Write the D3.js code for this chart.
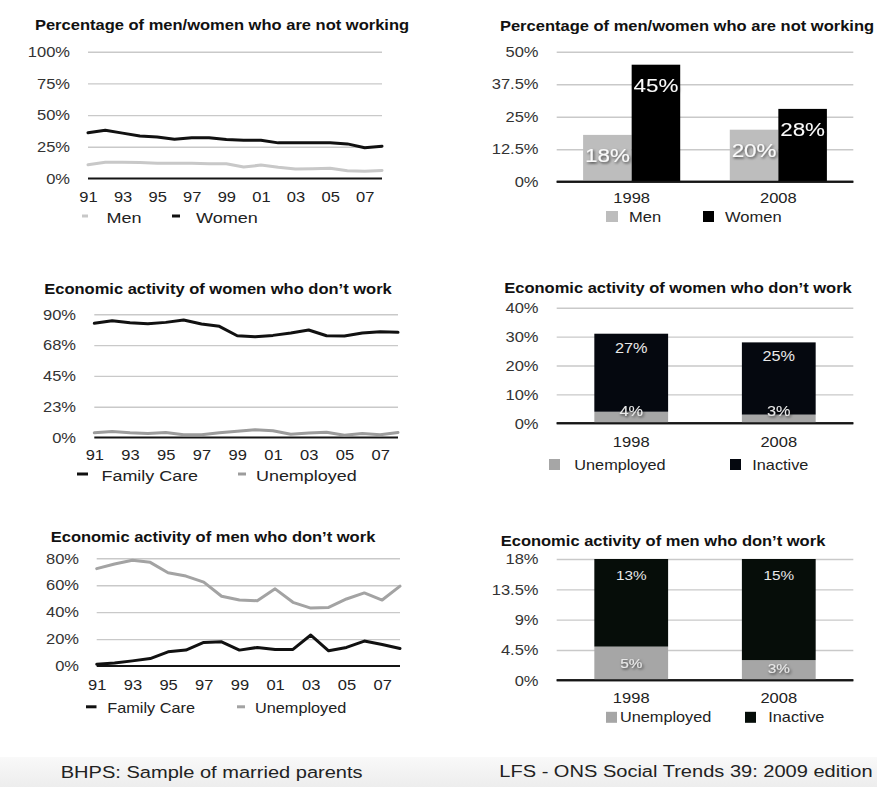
<!DOCTYPE html>
<html>
<head>
<meta charset="utf-8">
<script src="https://cdn.jsdelivr.net/npm/d3@7"></script>
<style>
  body { margin: 0; background: #fff; }
  svg { display: block; font-family: "Liberation Sans", Arial, Helvetica, sans-serif; }
</style>
</head>
<body>
<svg id="chart" width="877" height="787"></svg>
<script>
// ---- BHPS series (sample of married parents), percent ----
const years = [1991, 1992, 1993, 1994, 1995, 1996, 1997, 1998, 1999,
               2000, 2001, 2002, 2003, 2004, 2005, 2006, 2007, 2008];
const yearTicks = [1991, 1993, 1995, 1997, 1999, 2001, 2003, 2005, 2007];

const notWorkingMen   = [10.8, 12.9, 12.9, 12.6, 12.1, 12.1, 12.1, 11.6, 11.6, 9.0, 10.6, 8.8, 7.5, 7.7, 8.0, 6.2, 5.7, 6.4];
const notWorkingWomen = [36.1, 38.1, 35.8, 33.5, 32.7, 30.9, 32.2, 32.2, 30.7, 30.2, 30.2, 28.1, 28.1, 28.1, 28.1, 27.3, 24.2, 25.5];

const womenFamilyCare = [83.4, 85.3, 83.9, 83.1, 84.1, 85.8, 82.9, 81.2, 74.3, 73.6, 74.6, 76.3, 78.5, 74.3, 74.1, 76.3, 77.3, 76.8];
const womenUnemployed = [3.4, 4.4, 3.4, 2.9, 3.7, 2.0, 2.0, 3.4, 4.6, 5.6, 4.9, 2.4, 3.2, 3.9, 1.7, 2.9, 2.0, 3.7];

const menFamilyCare   = [1.3, 2.3, 3.8, 5.5, 10.5, 11.8, 17.5, 18.0, 11.8, 13.8, 12.3, 12.3, 23.0, 11.3, 13.8, 18.5, 16.0, 13.0];
const menUnemployed   = [72.3, 75.8, 78.5, 77.0, 69.3, 66.8, 62.3, 51.8, 49.0, 48.5, 57.3, 47.3, 43.0, 43.5, 49.8, 54.3, 49.0, 59.3];

// ---- LFS figures (Social Trends 39), percent ----
const surveyYears = ["1998", "2008"];
const lfsNotWorkingMen   = [18, 20];
const lfsNotWorkingWomen = [45, 28];
const lfsWomenUnemployed = [4, 3];
const lfsWomenInactive   = [27, 25];
const lfsMenUnemployed   = [5, 3];
const lfsMenInactive     = [13, 15];

// ---- axis ticks ----
const ticksNotWorking   = [0, 25, 50, 75, 100];
const labelsNotWorking  = ["0%", "25%", "50%", "75%", "100%"];
const ticksWomenLine    = [0, 22.5, 45, 67.5, 90];
const labelsWomenLine   = ["0%", "23%", "45%", "68%", "90%"];
const ticksMenLine      = [0, 20, 40, 60, 80];
const labelsMenLine     = ["0%", "20%", "40%", "60%", "80%"];
const ticksLfsNotWork   = [0, 12.5, 25, 37.5, 50];
const labelsLfsNotWork  = ["0%", "12.5%", "25%", "37.5%", "50%"];
const ticksLfsWomen     = [0, 10, 20, 30, 40];
const labelsLfsWomen    = ["0%", "10%", "20%", "30%", "40%"];
const ticksLfsMen       = [0, 4.5, 9, 13.5, 18];
const labelsLfsMen      = ["0%", "4.5%", "9%", "13.5%", "18%"];

const svg = d3.select("#chart");
const SX = 1.18;          // the typeface is set a little wide
const GRID = "#c9c9c9";
const BASE = "#151515";

// faint shaded strip behind the source captions
const defs = svg.append("defs");
const grad = defs.append("linearGradient").attr("id", "strip").attr("x1", 0).attr("y1", 0).attr("x2", 0).attr("y2", 1);
grad.append("stop").attr("offset", "0%").attr("stop-color", "#f9f9f9");
grad.append("stop").attr("offset", "100%").attr("stop-color", "#ededed");
const shadow = defs.append("filter").attr("id", "shadow").attr("x", "-30%").attr("y", "-40%").attr("width", "160%").attr("height", "180%");
shadow.append("feDropShadow").attr("dx", 1).attr("dy", 1.5).attr("stdDeviation", 1.2)
  .attr("flood-color", "#000").attr("flood-opacity", 0.65);

svg.append("rect").attr("x", 0).attr("y", 757).attr("width", 877).attr("height", 30).attr("fill", "url(#strip)");

function label(g, x, y, s, o = {}) {
  return g.append("text")
    .attr("transform", `translate(${x},${y}) scale(${SX},1)`)
    .attr("text-anchor", o.anchor || "start")
    .attr("font-size", o.size || 14)
    .attr("font-weight", o.weight || "normal")
    .attr("fill", o.fill || "#222")
    .text(s);
}

function yAxis(g, y, x0, x1, ticks, labels, labelRight) {
  const ax = g.append("g").attr("transform", `translate(${x0},0)`)
    .call(d3.axisLeft(y).tickValues(ticks).tickSize(-(x1 - x0)).tickFormat((d, i) => labels[i]));
  ax.select(".domain").remove();
  ax.selectAll(".tick line").attr("stroke", GRID).attr("stroke-width", 1.4)
    .filter(d => d === 0).remove();
  ax.selectAll(".tick text")
    .attr("x", -(x0 - labelRight) / SX).attr("dy", "0.34em")
    .attr("transform", `scale(${SX},1)`)
    .attr("font-size", 14).attr("font-family", null).attr("fill", "#333");
  g.append("line").attr("x1", x0).attr("x2", x1).attr("y1", y(0)).attr("y2", y(0))
    .attr("stroke", BASE).attr("stroke-width", 2);
}

function xAxis(g, scale, baseline, values, fmt) {
  const ax = g.append("g").attr("transform", `translate(0,${baseline})`)
    .call(d3.axisBottom(scale).tickValues(values).tickSize(0).tickFormat(fmt));
  ax.select(".domain").remove();
  ax.selectAll(".tick text").attr("y", 0).attr("dy", 0)
    .attr("transform", `scale(${SX},1)`)
    .attr("font-size", 14).attr("font-family", null).attr("fill", "#222");
}

// ---------- line panels ----------
function linePanel(p) {
  const g = svg.append("g");
  label(g, p.titleX, p.titleY, p.title, { anchor: "middle", size: 14, weight: "bold", fill: "#111" });
  const x = d3.scaleLinear().domain([years[0], years[years.length - 1]]).range([p.x0, p.x1]);
  const y = d3.scaleLinear().domain([0, p.ticks[p.ticks.length - 1]]).range([p.yBottom, p.yTop]);
  yAxis(g, y, p.x0, p.x1, p.ticks, p.tickLabels, p.labelRight);
  xAxis(g, x, p.xLabelY, yearTicks, d => String(d).slice(2));
  const line = d3.line().x((d, i) => x(years[i])).y(d => y(d));
  p.series.forEach(s => {
    g.append("path").datum(s.values).attr("d", line).attr("fill", "none")
      .attr("stroke", s.color).attr("stroke-width", 3)
      .attr("stroke-linejoin", "round").attr("stroke-linecap", "round");
  });
  p.legend.forEach(l => {
    g.append("line").attr("x1", l.d0).attr("x2", l.d1).attr("y1", p.legendY - 6.5).attr("y2", p.legendY - 6.5)
      .attr("stroke", l.color).attr("stroke-width", 3);
    label(g, l.tx, p.legendY, l.text, { size: p.legendSize });
  });
}

linePanel({
  title: "Percentage of men/women who are not working", titleX: 222, titleY: 30,
  x0: 88, x1: 382, yTop: 51.7, yBottom: 178.5, labelRight: 70, xLabelY: 201.5,
  ticks: ticksNotWorking, tickLabels: labelsNotWorking,
  series: [{ values: notWorkingMen, color: "#c8c8c8" }, { values: notWorkingWomen, color: "#111" }],
  legendY: 222.5, legendSize: 15.3,
  legend: [{ text: "Men", color: "#c8c8c8", d0: 82, d1: 88, tx: 106.5 },
           { text: "Women", color: "#111", d0: 172, d1: 180, tx: 196 }]
});

linePanel({
  title: "Economic activity of women who don\u2019t work", titleX: 218, titleY: 294,
  x0: 94.3, x1: 398, yTop: 314.3, yBottom: 437.5, labelRight: 76, xLabelY: 460,
  ticks: ticksWomenLine, tickLabels: labelsWomenLine,
  series: [{ values: womenUnemployed, color: "#9c9c9c" }, { values: womenFamilyCare, color: "#111" }],
  legendY: 480.5, legendSize: 15.2,
  legend: [{ text: "Family Care", color: "#111", d0: 77, d1: 88, tx: 101.5 },
           { text: "Unemployed", color: "#9c9c9c", d0: 238, d1: 246, tx: 256 }]
});

linePanel({
  title: "Economic activity of men who don\u2019t work", titleX: 213, titleY: 541.7,
  x0: 96.7, x1: 400, yTop: 558.3, yBottom: 666, labelRight: 79, xLabelY: 690,
  ticks: ticksMenLine, tickLabels: labelsMenLine,
  series: [{ values: menUnemployed, color: "#a3a3a3" }, { values: menFamilyCare, color: "#111" }],
  legendY: 713.3, legendSize: 13.8,
  legend: [{ text: "Family Care", color: "#111", d0: 86, d1: 96.5, tx: 107.3 },
           { text: "Unemployed", color: "#a3a3a3", d0: 237, d1: 245, tx: 255 }]
});

// ---------- bar panels ----------
const RX0 = 556.7, RX1 = 853.3, RLABEL = 538.5;

// grouped bars: men / women not working
(function () {
  const g = svg.append("g");
  label(g, 687, 31, "Percentage of men/women who are not working", { anchor: "middle", size: 14, weight: "bold", fill: "#111" });
  const y = d3.scaleLinear().domain([0, 50]).range([181.7, 51.7]);
  const x0 = d3.scaleBand().domain(surveyYears).range([RX0, RX1]).paddingInner(0.338).paddingOuter(0.18);
  const groups = ["Men", "Women"];
  const x1 = d3.scaleBand().domain(groups).range([0, x0.bandwidth()]);
  const colors = { Men: "#bdbdbd", Women: "#000" };
  const values = { Men: lfsNotWorkingMen, Women: lfsNotWorkingWomen };
  yAxis(g, y, RX0, RX1, ticksLfsNotWork, labelsLfsNotWork, RLABEL);
  const rows = [];
  surveyYears.forEach((yr, i) => groups.forEach(s => rows.push({ yr, s, v: values[s][i] })));
  g.selectAll("rect.bar").data(rows).join("rect").attr("class", "bar")
    .attr("x", d => x0(d.yr) + x1(d.s)).attr("width", x1.bandwidth())
    .attr("y", d => y(d.v)).attr("height", d => y(0) - y(d.v))
    .attr("fill", d => colors[d.s]);
  g.append("line").attr("x1", RX0).attr("x2", RX1).attr("y1", y(0)).attr("y2", y(0)).attr("stroke", BASE).attr("stroke-width", 2);
  rows.forEach(d => {
    label(g, x0(d.yr) + x1(d.s) + x1.bandwidth() / 2, y(d.v) + 27, d.v + "%",
      { anchor: "middle", size: 19, fill: "#fafafa" }).attr("filter", "url(#shadow)");
  });
  xAxis(g, x0, 203.3, surveyYears, d => d);
  g.append("rect").attr("x", 606).attr("y", 211).attr("width", 12).attr("height", 11).attr("fill", colors.Men);
  label(g, 629, 221.7, "Men", { size: 14 });
  g.append("rect").attr("x", 703).attr("y", 211).attr("width", 11).attr("height", 11).attr("fill", colors.Women);
  label(g, 725, 221.7, "Women", { size: 14 });
})();

// stacked bars: unemployed + inactive
function stackPanel(p) {
  const g = svg.append("g");
  label(g, p.titleX, p.titleY, p.title, { anchor: "middle", size: 14, weight: "bold", fill: "#111" });
  const y = d3.scaleLinear().domain([0, p.ticks[p.ticks.length - 1]]).range([p.yBottom, p.yTop]);
  const x = d3.scaleBand().domain(surveyYears).range([RX0, RX1]).paddingInner(0.5).paddingOuter(0.255);
  yAxis(g, y, RX0, RX1, p.ticks, p.tickLabels, RLABEL);
  const rows = surveyYears.map((yr, i) => ({ yr, Unemployed: p.unemployed[i], Inactive: p.inactive[i] }));
  const stacked = d3.stack().keys(["Unemployed", "Inactive"])(rows);
  const colors = { Unemployed: "#a6a6a6", Inactive: p.dark };
  stacked.forEach(layer => {
    g.selectAll(null).data(layer).join("rect")
      .attr("x", d => x(d.data.yr)).attr("width", x.bandwidth())
      .attr("y", d => y(d[1])).attr("height", d => y(d[0]) - y(d[1]))
      .attr("fill", colors[layer.key]);
  });
  g.append("line").attr("x1", RX0).attr("x2", RX1).attr("y1", y(0)).attr("y2", y(0)).attr("stroke", BASE).attr("stroke-width", 2);
  stacked.forEach(layer => {
    layer.forEach(d => {
      const cx = x(d.data.yr) + x.bandwidth() / 2;
      const v = d.data[layer.key];
      let yy;
      if (layer.key === "Inactive") yy = y(d[1]) + p.topOffset;
      else yy = Math.min((y(d[0]) + y(d[1])) / 2, y(0) - 12) + 4.5;
      label(g, cx, yy, v + "%", { anchor: "middle", size: p.valueSize, fill: "#e9e9e9" })
        .attr("filter", layer.key === "Unemployed" ? "url(#shadow)" : null);
    });
  });
  xAxis(g, x, p.xLabelY, surveyYears, d => d);
  g.append("rect").attr("x", p.sq1).attr("y", p.legendY - 10.5).attr("width", 11).attr("height", 11).attr("fill", colors.Unemployed);
  label(g, p.t1, p.legendY, "Unemployed", { size: 13.8 });
  g.append("rect").attr("x", p.sq2).attr("y", p.legendY - 10.5).attr("width", 11).attr("height", 11).attr("fill", colors.Inactive);
  label(g, p.t2, p.legendY, "Inactive", { size: 13.8 });
}

stackPanel({
  title: "Economic activity of women who don\u2019t work", titleX: 678, titleY: 292.7,
  yTop: 307.7, yBottom: 423.3, ticks: ticksLfsWomen, tickLabels: labelsLfsWomen,
  unemployed: lfsWomenUnemployed, inactive: lfsWomenInactive, dark: "#05080f",
  topOffset: 19, valueSize: 13.8, xLabelY: 446.7,
  legendY: 469.5, sq1: 549, t1: 574.3, sq2: 730, t2: 752.3
});

stackPanel({
  title: "Economic activity of men who don\u2019t work", titleX: 663, titleY: 545.7,
  yTop: 559, yBottom: 680.3, ticks: ticksLfsMen, tickLabels: labelsLfsMen,
  unemployed: lfsMenUnemployed, inactive: lfsMenInactive, dark: "#060d09",
  topOffset: 21, valueSize: 13, xLabelY: 703.3,
  legendY: 722.3, sq1: 606, t1: 620, sq2: 745, t2: 768.3
});

// ---------- source captions ----------
label(svg, 60.7, 778.3, "BHPS: Sample of married parents", { size: 17, fill: "#222" });
label(svg, 499.3, 776.7, "LFS - ONS Social Trends 39: 2009 edition", { size: 17, fill: "#222" });
</script>
</body>
</html>
